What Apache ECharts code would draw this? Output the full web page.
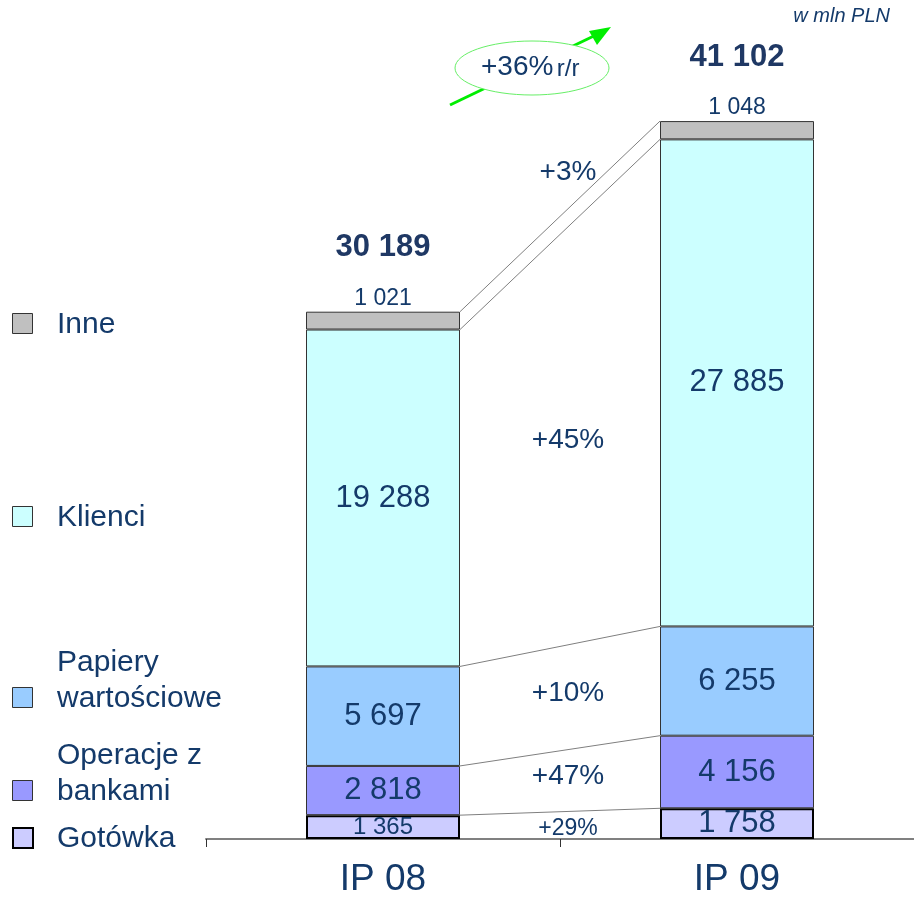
<!DOCTYPE html>
<html>
<head>
	<meta charset="utf-8">
	<title>Aktywa</title>
	<script src="https://cdn.jsdelivr.net/npm/echarts@6/dist/echarts.min.js"></script>
	<style>
		html, body { margin: 0; padding: 0; background: #fff; }
		#chart { width: 914px; height: 898px; }
	</style>
</head>
<body>
	<div id="chart"></div>
	<script>
		// dane (w mln PLN)
		var periods = ['IP 08', 'IP 09'];
		var names = ['Gotówka', 'Operacje z bankami', 'Papiery wartościowe', 'Klienci', 'Inne'];
		var legendLines = [['Gotówka'], ['Operacje z', 'bankami'], ['Papiery', 'wartościowe'], ['Klienci'], ['Inne']];
		var gotowka = [1365, 1758];
		var operacje = [2818, 4156];
		var papiery = [5697, 6255];
		var klienci = [19288, 27885];
		var inne = [1021, 1048];
		var totals = [30189, 41102];
		var growth = ['+29%', '+47%', '+10%', '+45%', '+3%'];
		var colors = ['#ccccff', '#9999ff', '#99ccff', '#ccffff', '#c0c0c0'];

		var txt = '#143a6a';
		var font = 'Liberation Sans, Arial, sans-serif';
		var seriesData = [gotowka, operacje, papiery, klienci, inne];

		function fmt(v) {
			return String(v).replace(/\B(?=(\d{3})+(?!\d))/g, ' ');
		}

		var chart = echarts.init(document.getElementById('chart'));
		var BAR_W = 154;

		var series = seriesData.map(function (vals, i) {
			var s = {
				name: names[i],
				type: 'bar',
				stack: 'a',
				barWidth: BAR_W,
				data: vals,
				itemStyle: {
					color: colors[i],
					borderColor: i === 0 ? '#000' : '#333',
					borderWidth: i === 0 ? 2 : 1
				},
				label: {
					show: true,
					position: 'inside',
					color: txt,
					fontFamily: font,
					fontSize: 31,
					formatter: function (p) { return fmt(p.value); }
				}
			};
			if (i === 0) {
				s.label = {
					show: true, position: 'inside', color: txt, fontFamily: font,
					formatter: function (p) { return p.dataIndex === 0 ? '{s|' + fmt(p.value) + '}' : '{b|' + fmt(p.value) + '}'; },
					rich: {
						s: { fontSize: 24, color: txt, fontFamily: font },
						b: { fontSize: 31, color: txt, fontFamily: font }
					}
				};
			}
			if (i === 4) {
				s.label = {
					show: true, position: 'top', distance: 0, color: txt, fontFamily: font,
					align: 'center',
					formatter: function (p) {
						return '{t|' + fmt(totals[p.dataIndex]) + '}\n{v|' + fmt(p.value) + '}';
					},
					rich: {
						t: { fontSize: 31, fontWeight: 'bold', color: '#1f3864', fontFamily: font, lineHeight: 76 },
						v: { fontSize: 23, color: txt, fontFamily: font, lineHeight: 26 }
					}
				};
			}
			return s;
		});

		// linie łączące słupki + opisy zmian
		var cum = [[0, 0]];
		seriesData.forEach(function (vals, i) {
			cum.push([cum[i][0] + vals[0], cum[i][1] + vals[1]]);
		});
		var connData = [];
		for (var k = 1; k < cum.length; k++) {
			connData.push([k, cum[k][0], cum[k][1]]);
		}

		series.push({
			type: 'custom',
			silent: true,
			z: 5,
			data: connData,
			renderItem: function (params, api) {
				var a = api.coord([0, api.value(1)]);
				var b = api.coord([1, api.value(2)]);
				return {
					type: 'line',
					shape: { x1: a[0] + BAR_W / 2, y1: a[1], x2: b[0] - BAR_W / 2, y2: b[1] },
					style: { stroke: '#7f7f7f', lineWidth: 1 }
				};
			}
		});

		var growthData = growth.map(function (g, i) {
			return [i, (cum[i][0] + cum[i + 1][0]) / 2, (cum[i][1] + cum[i + 1][1]) / 2];
		});
		series.push({
			type: 'custom',
			silent: true,
			z: 6,
			data: growthData,
			renderItem: function (params, api) {
				var i = api.value(0);
				var a = api.coord([0, api.value(1)]);
				var b = api.coord([1, api.value(2)]);
				var y = (a[1] + b[1]) / 2;
				if (i === 4) y -= 53;
				if (i === 0) y += 3;
				if (i === 2) y -= 5;
				if (i === 1) y -= 5;
				return {
					type: 'text',
					style: {
						x: (a[0] + b[0]) / 2 + 8, y: y,
						text: growth[i],
						fill: txt,
						font: (i === 0 ? 23 : 28) + 'px ' + font,
						align: 'center', verticalAlign: 'middle'
					}
				};
			}
		});

		// legenda
		var legendY = [837, 790, 697, 516, 323];
		var graphic = [];
		legendLines.forEach(function (lines, i) {
			graphic.push({
				type: 'rect', left: 12, top: legendY[i] - 10,
				shape: { width: 20, height: 20 },
				style: { fill: colors[i], stroke: i === 0 ? '#000' : '#333', lineWidth: i === 0 ? 2 : 1 }
			});
			lines.forEach(function (ln, j) {
				var y = legendY[i] - (lines.length - 1 - j) * 36;
				graphic.push({
					type: 'text', left: 57, top: y - 13,
					style: { text: ln, fill: txt, font: '30px ' + font }
				});
			});
		});
		graphic.push(
			{
				type: 'text', right: 24, top: 6,
				style: { text: 'w mln PLN', fill: txt, font: 'italic 20px ' + font }
			},
			{
				type: 'line', z: 1,
				shape: { x1: 450, y1: 105, x2: 598, y2: 34 },
				style: { stroke: '#00ee00', lineWidth: 3 }
			},
			{
				type: 'polygon', z: 1,
				shape: { points: [[611, 27], [589, 31], [597, 45]] },
				style: { fill: '#00ee00' }
			},
			{
				type: 'ellipse', z: 2,
				shape: { cx: 532, cy: 68, rx: 77, ry: 27 },
				style: { fill: '#fff', stroke: '#66ee66', lineWidth: 1 }
			},
			{
				type: 'text', z: 3, left: 481, top: 53,
				style: {
					text: '{a|+36%} {b|r/r}',
					rich: {
						a: { fontSize: 28, fill: txt, fontFamily: font, verticalAlign: 'bottom' },
						b: { fontSize: 24, fill: txt, fontFamily: font, verticalAlign: 'bottom' }
					}
				}
			}
		);

		var option = {
			animation: false,
			grid: { left: 206, right: -4, top: 53, height: 788 },
			xAxis: {
				type: 'category',
				data: periods,
				axisLine: { lineStyle: { color: '#808080', width: 2 } },
				axisTick: { show: true, length: 8, lineStyle: { color: '#333' } },
				axisLabel: { color: txt, fontFamily: font, fontSize: 37, margin: 22 }
			},
			yAxis: {
				type: 'value', min: 0, max: 45000,
				show: false
			},
			graphic: graphic,
			series: series
		};
		chart.setOption(option);
	</script>
</body>
</html>
